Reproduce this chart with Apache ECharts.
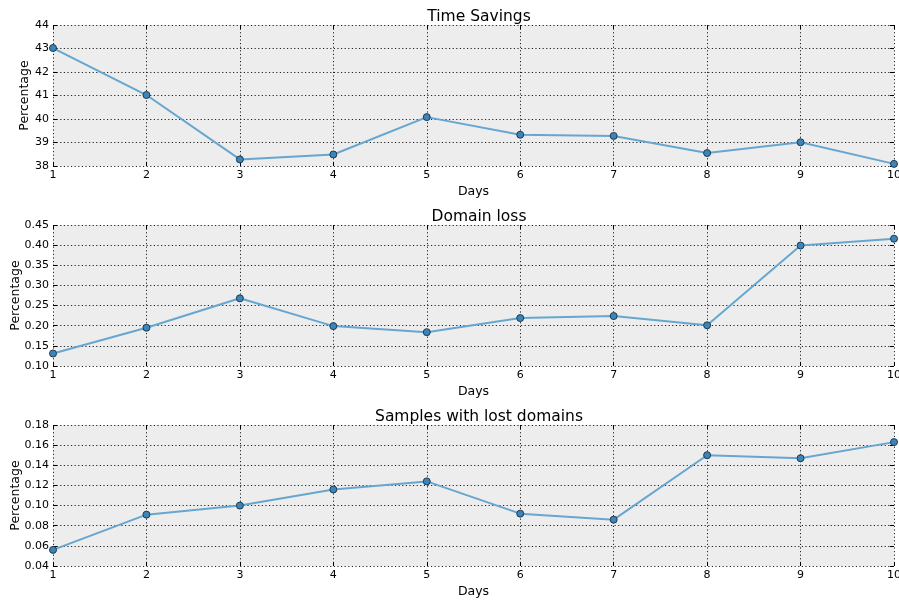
<!DOCTYPE html>
<html>
<head>
<meta charset="utf-8">
<script src="https://cdn.jsdelivr.net/npm/echarts@6/dist/echarts.min.js"></script>
<style>
html,body{margin:0;padding:0;background:#fff;}
#c{width:899px;height:602px;}
</style>
</head>
<body>
<div id="c"></div>
<script>
const days = [1,2,3,4,5,6,7,8,9,10];
const titles = ['Time Savings', 'Domain loss', 'Samples with lost domains'];
const timeSavings = [43.02, 41.02, 38.28, 38.49, 40.08, 39.33, 39.28, 38.55, 39.01, 38.09];
const domainLoss = [0.131, 0.195, 0.268, 0.199, 0.184, 0.219, 0.224, 0.201, 0.399, 0.416];
const samplesLost = [0.056, 0.091, 0.100, 0.116, 0.124, 0.092, 0.086, 0.150, 0.147, 0.163];
const yMins = [38, 0.10, 0.04];
const yMaxs = [44, 0.45, 0.18];
const yIntervals = [1, 0.05, 0.02];
const yDecimals = [0, 2, 2];
const xLabel = 'Days';
const yLabel = 'Percentage';

const seriesData = [timeSavings, domainLoss, samplesLost];
const tops = [25, 225, 425];
const nameGaps = [22, 31, 31];
const font = 'DejaVu Sans';
const dotted = {show: true, lineStyle: {color: '#222', type: [1.2, 2.4], width: 1}};

const option = {
  animation: false,
  backgroundColor: '#fff',
  title: [], grid: [], xAxis: [], yAxis: [], series: []
};

for (let i = 0; i < 3; i++) {
  option.title.push({
    text: titles[i], left: 474, textAlign: 'center', top: tops[i] - 21,
    textStyle: {fontFamily: font, fontSize: 15.5, fontWeight: 'normal', color: '#000'}
  });
  option.grid.push({left: 53, right: 5, top: tops[i], height: 141,
    containLabel: false, outerBoundsMode: 'none',
    show: true, backgroundColor: '#ededed', borderWidth: 0});
  option.xAxis.push({
    type: 'value', gridIndex: i, min: 1, max: 10, interval: 1,
    name: xLabel, nameLocation: 'middle', nameGap: 19, nameMoveOverlap: false,
    nameTextStyle: {fontFamily: font, fontSize: 12.5, color: '#000'},
    axisLine: {show: false},
    axisTick: {show: true, inside: true, length: 4, lineStyle: {color: '#000'}},
    axisLabel: {fontFamily: font, fontSize: 11, color: '#000', margin: 4},
    splitLine: dotted
  });
  option.xAxis.push({
    type: 'value', gridIndex: i, min: 1, max: 10, interval: 1, position: 'top',
    axisLine: {show: false},
    axisTick: {show: true, inside: true, length: 4, lineStyle: {color: '#000'}},
    axisLabel: {show: false}, splitLine: {show: false}
  });
  option.yAxis.push({
    type: 'value', gridIndex: i, min: yMins[i], max: yMaxs[i], interval: yIntervals[i],
    name: yLabel, nameLocation: 'middle', nameGap: nameGaps[i], nameMoveOverlap: false,
    nameTextStyle: {fontFamily: font, fontSize: 12.5, color: '#000'},
    axisLine: {show: false},
    axisTick: {show: true, inside: true, length: 4, lineStyle: {color: '#000'}},
    axisLabel: {fontFamily: font, fontSize: 11, color: '#000', margin: 4,
      formatter: (v) => v.toFixed(yDecimals[i])},
    splitLine: dotted
  });
  option.yAxis.push({
    type: 'value', gridIndex: i, min: yMins[i], max: yMaxs[i], interval: yIntervals[i], position: 'right',
    axisLine: {show: false},
    axisTick: {show: true, inside: true, length: 4, lineStyle: {color: '#000'}},
    axisLabel: {show: false}, splitLine: {show: false}
  });
  option.series.push({
    type: 'line', xAxisIndex: 2 * i, yAxisIndex: 2 * i,
    data: days.map((d, k) => [d, seriesData[i][k]]),
    symbol: 'circle', symbolSize: 7, clip: false,
    lineStyle: {color: '#66a6cf', width: 2},
    itemStyle: {color: '#3d85b8', borderColor: '#1d3b52', borderWidth: 1},
    z: 5
  });
}

const chart = echarts.init(document.getElementById('c'), null, {renderer: 'canvas'});
chart.setOption(option);
</script>
</body>
</html>
